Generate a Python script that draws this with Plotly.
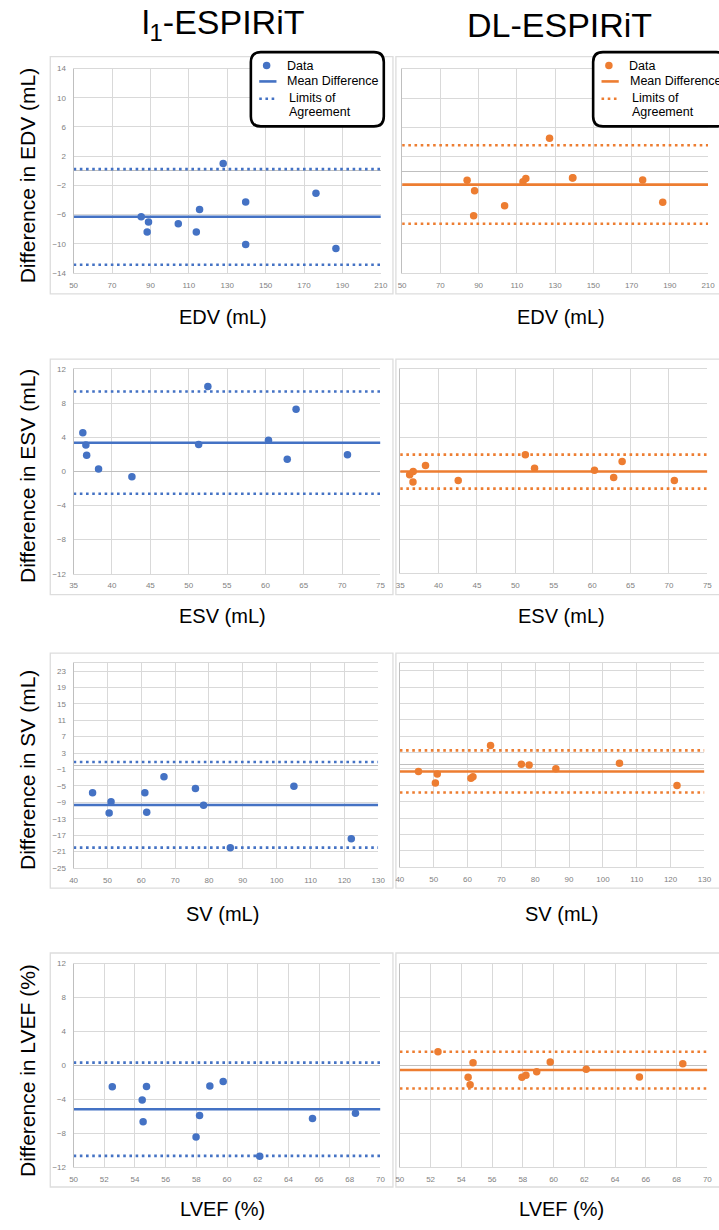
import plotly.graph_objects as go

W, H = 719, 1230
BLUE = "#4472C4"
ORANGE = "#ED7D31"
FONT = "Liberation Sans"

# ---------------- data ----------------
titles = ["l<sub>1</sub>-ESPIRiT", "DL-ESPIRiT"]
metrics = ["EDV", "ESV", "SV", "LVEF"]
x_titles = ["EDV (mL)", "ESV (mL)", "SV (mL)", "LVEF (%)"]
y_titles = ["Difference in EDV (mL)", "Difference in ESV (mL)",
            "Difference in SV (mL)", "Difference in LVEF (%)"]

edv_l1_x = [85.2, 89.0, 88.3, 104.5, 115.6, 113.9, 127.9, 139.6, 139.6, 176.2, 186.6]
edv_l1_y = [-6.3, -7.0, -8.4, -7.25, -5.3, -8.4, 1.0, -4.26, -10.1, -3.08, -10.65]
edv_dl_x = [84.0, 87.9, 87.4, 103.6, 114.7, 113.2, 127.1, 139.1, 139.3, 175.8, 186.3]
edv_dl_y = [-1.27, -2.68, -6.14, -4.77, -1.0, -1.45, 4.5, -0.95, -0.9, -1.23, -4.27]

esv_l1_x = [36.2, 36.6, 36.7, 38.25, 42.6, 51.3, 52.5, 60.4, 62.85, 64.0, 70.7]
esv_l1_y = [4.52, 3.08, 1.88, 0.29, -0.64, 3.16, 9.94, 3.66, 1.41, 7.27, 1.96]
esv_dl_x = [36.24, 36.7, 36.67, 38.3, 42.56, 51.3, 52.5, 60.3, 62.8, 63.9, 70.7]
esv_dl_y = [-0.43, -0.04, -1.28, 0.66, -1.09, 1.94, 0.35, 0.12, -0.74, 1.12, -1.09]

sv_l1_x = [45.6, 51.06, 50.5, 61.05, 61.6, 66.7, 76.0, 78.4, 86.3, 105.1, 122.05]
sv_l1_y = [-6.68, -8.85, -11.6, -6.68, -11.44, -2.8, -5.63, -9.74, -20.06, -5.06, -17.89]
sv_dl_x = [45.5, 51.05, 50.5, 61.0, 61.6, 66.8, 75.9, 78.2, 86.1, 104.9, 121.9]
sv_dl_y = [-1.6, -2.24, -4.42, -3.29, -2.89, 4.77, 0.18, -0.02, -0.95, 0.42, -5.06]

lvef_l1_x = [52.52, 54.47, 54.75, 54.53, 57.98, 58.21, 58.88, 59.75, 62.13, 65.57, 68.37]
lvef_l1_y = [-2.52, -4.08, -2.48, -6.65, -8.45, -5.91, -2.44, -1.89, -10.71, -6.26, -5.64]
lvef_dl_x = [52.48, 54.76, 54.44, 54.57, 57.94, 58.2, 58.9, 59.78, 62.12, 65.58, 68.4]
lvef_dl_y = [1.6, 0.31, -1.41, -2.27, -1.41, -1.17, -0.74, 0.39, -0.47, -1.37, 0.2]

# mean difference and limits of agreement [mean, upper, lower]
edv_l1_stats = [-6.3, 0.23, -12.87]
edv_dl_stats = [-1.86, 3.55, -7.23]
esv_l1_stats = [3.35, 9.36, -2.62]
esv_dl_stats = [-0.04, 1.94, -2.05]
sv_l1_stats = [-9.66, 0.82, -20.06]
sv_dl_stats = [-1.6, 3.56, -6.76]
lvef_l1_stats = [-5.17, 0.33, -10.67]
lvef_dl_stats = [-0.55, 1.6, -2.73]

# axis settings
x_ranges = [[50, 210], [35, 75], [40, 130], [50, 70]]
x_dticks = [20, 5, 10, 2]
y_ranges = [[-14, 14], [-12, 12], [-25, 25], [-12, 12]]
y_tick0 = [-14, -12, -25, -12]
y_dticks = [4, 4, 4, 4]

legend_labels = ["Data", "Mean Difference", "Limits of", "Agreement"]

panels = [
    [(edv_l1_x, edv_l1_y, edv_l1_stats), (edv_dl_x, edv_dl_y, edv_dl_stats)],
    [(esv_l1_x, esv_l1_y, esv_l1_stats), (esv_dl_x, esv_dl_y, esv_dl_stats)],
    [(sv_l1_x, sv_l1_y, sv_l1_stats), (sv_dl_x, sv_dl_y, sv_dl_stats)],
    [(lvef_l1_x, lvef_l1_y, lvef_l1_stats), (lvef_dl_x, lvef_dl_y, lvef_dl_stats)],
]
colors = [BLUE, ORANGE]

# ---------------- layout geometry (pixels) ----------------
plot_boxes = [
    [(70.7, 382.7, 65.0, 271.0), (404.3, 715.0, 65.7, 271.0)],
    [(70.7, 382.3, 367.7, 574.0), (402.3, 714.3, 367.7, 573.5)],
    [(70.7, 380.0, 663.7, 870.3), (402.0, 711.3, 663.5, 869.5)],
    [(70.7, 382.3, 966.7, 1171.7), (402.0, 714.3, 966.7, 1171.7)],
]
cards_y = [(53, 292), (357.7, 595), (654, 890.7), (956, 1191.7)]
cards_x = [(47, 395), (398, 730)]
xtitle_y = [315, 616.7, 916.7, 1214]
xtitle_x = [222, 566]


def fx(px):
    return px / W


def fy(py):
    return 1 - py / H


fig = go.Figure()
layout = dict(
    width=W, height=H, margin=dict(l=0, r=0, t=0, b=0),
    paper_bgcolor="white", plot_bgcolor="white", showlegend=False,
    font=dict(family=FONT),
)
shapes = []
annotations = []

idx = 0
for r in range(4):
    for c in range(2):
        idx += 1
        xs, ys, stats = panels[r][c]
        col = colors[c]
        x0, x1, y0, y1 = plot_boxes[r][c]
        xa = "x" if idx == 1 else f"x{idx}"
        ya = "y" if idx == 1 else f"y{idx}"
        xkey = "xaxis" if idx == 1 else f"xaxis{idx}"
        ykey = "yaxis" if idx == 1 else f"yaxis{idx}"
        layout[xkey] = dict(
            domain=[fx(x0), fx(x1)], anchor=ya, range=x_ranges[r],
            tickmode="linear", tick0=x_ranges[r][0], dtick=x_dticks[r],
            showgrid=True, gridcolor="#D9D9D9", gridwidth=1,
            showline=True, mirror=True, linecolor="#D9D9D9", linewidth=1,
            zeroline=False, ticks="", ticklabelstandoff=4,
            tickfont=dict(size=8, color="#7F7F7F", family=FONT),
        )
        layout[ykey] = dict(
            domain=[fy(y1), fy(y0)], anchor=xa, range=y_ranges[r],
            tickmode="linear", tick0=y_tick0[r], dtick=y_dticks[r],
            showgrid=True, gridcolor="#D9D9D9", gridwidth=1,
            showline=True, mirror=False, linecolor="#BFBFBF", linewidth=1,
            zeroline=True, zerolinecolor="#BFBFBF", zerolinewidth=1,
            ticks="", ticklabelstandoff=5, showticklabels=(c == 0),
            tickfont=dict(size=8, color="#7F7F7F", family=FONT),
        )
        xr = x_ranges[r]
        mean, up, lo = stats
        for lv in (up, lo):
            fig.add_trace(go.Scatter(
                x=xr, y=[lv, lv], mode="lines", xaxis=xa, yaxis=ya,
                line=dict(color=col, width=2.6, dash="2.6px,3.6px"),
                hoverinfo="skip"))
        fig.add_trace(go.Scatter(
            x=xr, y=[mean, mean], mode="lines", xaxis=xa, yaxis=ya,
            line=dict(color=col, width=2.6), hoverinfo="skip"))
        fig.add_trace(go.Scatter(
            x=xs, y=ys, mode="markers", xaxis=xa, yaxis=ya,
            marker=dict(color=col, size=7.5, line=dict(width=0))))

# cards
for r in range(4):
    for c in range(2):
        cx0, cx1 = cards_x[c]
        cy0, cy1 = cards_y[r]
        shapes.append(dict(type="rect", xref="paper", yref="paper",
                           x0=fx(cx0), x1=fx(cx1), y0=fy(cy1), y1=fy(cy0),
                           line=dict(color="#DDDDDD", width=1.3),
                           fillcolor="rgba(0,0,0,0)", layer="below"))

# titles
title_x = [222.5, 564]
for c in range(2):
    annotations.append(dict(text=titles[c], x=fx(title_x[c]),
                            y=fy(21), xref="paper", yref="paper",
                            xanchor="center", yanchor="middle", showarrow=False,
                            font=dict(size=34, color="black", family=FONT)))
for r in range(4):
    annotations.append(dict(text=y_titles[r], x=fx(24),
                            y=fy((plot_boxes[r][0][2] + plot_boxes[r][0][3]) / 2 + 5),
                            xref="paper", yref="paper", textangle=-90,
                            xanchor="center", yanchor="middle", showarrow=False,
                            font=dict(size=21, color="black", family=FONT)))
    for c in range(2):
        annotations.append(dict(text=x_titles[r], x=fx(xtitle_x[c]),
                                y=fy(xtitle_y[r]), xref="paper", yref="paper",
                                xanchor="center", yanchor="middle", showarrow=False,
                                font=dict(size=20, color="black", family=FONT)))


def rounded_path(x0, y0, x1, y1, rad):
    rx, ry = rad / W, rad / H
    X0, X1, Y0, Y1 = fx(x0), fx(x1), fy(y1), fy(y0)
    return (f"M {X0+rx},{Y1} L {X1-rx},{Y1} Q {X1},{Y1} {X1},{Y1-ry} "
            f"L {X1},{Y0+ry} Q {X1},{Y0} {X1-rx},{Y0} L {X0+rx},{Y0} "
            f"Q {X0},{Y0} {X0},{Y0+ry} L {X0},{Y1-ry} Q {X0},{Y1} {X0+rx},{Y1} Z")


legend_x0 = [250.7, 598.3]
for c in range(2):
    bx = legend_x0[c]
    col = colors[c]
    shapes.append(dict(type="path", xref="paper", yref="paper",
                       path=rounded_path(bx, 48.5, bx + 135, 123.3, 10),
                       line=dict(color="black", width=2.6), fillcolor="white"))
    dcx, dcy, rr = bx + 16, 62, 3.8
    shapes.append(dict(type="circle", xref="paper", yref="paper",
                       x0=fx(dcx - rr), x1=fx(dcx + rr), y0=fy(dcy + rr), y1=fy(dcy - rr),
                       line=dict(width=0), fillcolor=col))
    shapes.append(dict(type="line", xref="paper", yref="paper",
                       x0=fx(bx + 8.5), x1=fx(bx + 26), y0=fy(78), y1=fy(78),
                       line=dict(color=col, width=2.6)))
    shapes.append(dict(type="line", xref="paper", yref="paper",
                       x0=fx(bx + 8.5), x1=fx(bx + 26), y0=fy(95.5), y1=fy(95.5),
                       line=dict(color=col, width=2.6, dash="2.6px,3.6px")))
    text_pos = [(bx + 34.3, 62), (bx + 35, 78), (bx + 37, 95), (bx + 37, 109)]
    for lab, (tx, ty) in zip(legend_labels, text_pos):
        annotations.append(dict(text=lab, x=fx(tx), y=fy(ty), xref="paper", yref="paper",
                                xanchor="left", yanchor="middle", showarrow=False,
                                font=dict(size=12.5, color="black", family=FONT)))

layout["shapes"] = shapes
layout["annotations"] = annotations
fig.update_layout(**layout)
fig.write_html(
    "out.html",
    config={"displayModeBar": False},
    post_script="document.body.style.margin='0';document.body.style.overflow='hidden';",
)
